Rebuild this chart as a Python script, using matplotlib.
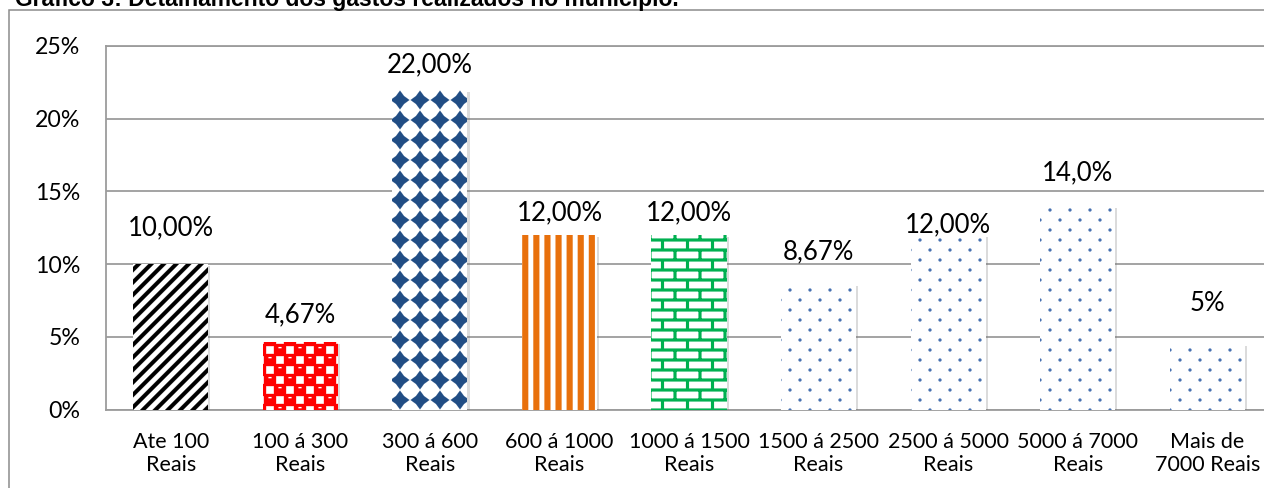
import numpy as np
import matplotlib
matplotlib.use("Agg")
import matplotlib.pyplot as plt
from matplotlib import hatch as mhatch
from matplotlib import patheffects as pe
from matplotlib.patches import Rectangle
from matplotlib.path import Path

# Data
title = "Gráfico 3: Detalhamento dos gastos realizados no município."
categories = [
    "Ate 100\nReais", "100 á 300\nReais", "300 á 600\nReais", "600 á 1000\nReais",
    "1000 á 1500\nReais", "1500 á 2500\nReais", "2500 á 5000\nReais",
    "5000 á 7000\nReais", "Mais de\n7000 Reais",
]
values = [10.0, 4.67, 22.0, 12.0, 12.0, 8.67, 12.0, 14.0, 4.5]
value_labels = ["10,00%", "4,67%", "22,00%", "12,00%", "12,00%", "8,67%", "12,00%", "14,0%", "5%"]
y_ticks = [0, 5, 10, 15, 20, 25]

# Styles (Excel pattern fills imitated with custom hatches)
hatches = ["/", "o", "O", "|", "-", ".", ".", ".", "."]
face_colors = ["white", "#ff0000", "white", "white", "white", "white", "white", "white", "white"]
hatch_colors = ["black", "white", "#214d84", "#e8700c", "#00b050",
                "#4670b0", "#4670b0", "#4670b0", "#4670b0"]
label_offsets = [26, 19, 18, 16, 16, 23, 7, 24, 29]  # points above bar top
GRID = "#9c9c9c"


def _rect(x0, y0, x1, y1):
    return [(x0, y0), (x1, y0), (x1, y1), (x0, y1), (x0, y0)]


def _stagger(n):
    for j in range(-1, 2 * n + 2):
        for i in range(-1, n + 2):
            yield i / n + (j % 2) * 0.5 / n, j / (2 * n)


class PolyHatch(mhatch.HatchPatternBase):
    char = "?"

    def __init__(self, hatch, density):
        self.polys = [np.asarray(p, float) for p in self.shapes()] if self.char in hatch else []
        self.num_vertices = sum(len(p) for p in self.polys)

    def set_vertices_and_codes(self, vertices, codes):
        i = 0
        for p in self.polys:
            n = len(p)
            vertices[i:i + n] = p
            codes[i] = Path.MOVETO
            codes[i + 1:i + n - 1] = Path.LINETO
            codes[i + n - 1] = Path.CLOSEPOLY
            i += n


class DiagonalStripes(PolyHatch):
    char = "/"

    def shapes(self):
        w = 0.055
        return [[(c - 0.1, -0.1), (c - 0.1 + w, -0.1), (c + 1.1 + w, 1.1), (c + 1.1, 1.1), (c - 0.1, -0.1)]
                for c in np.arange(-10, 10) / 8]


class VerticalStripes(PolyHatch):
    char = "|"

    def shapes(self):
        w = 0.06
        return [_rect(k / 9, -0.1, k / 9 + w, 1.1) for k in range(9)]


class Bricks(PolyHatch):
    char = "-"

    def shapes(self):
        t, rows, cols = 0.03, 10, 4
        out = [_rect(-0.1, j / rows - t / 2, 1.1, j / rows + t / 2) for j in range(rows + 1)]
        for j in range(rows):
            shift = 0.5 / cols if j % 2 else 0
            for i in range(-1, cols + 1):
                x = i / cols + shift
                out.append(_rect(x - t / 2, j / rows, x + t / 2, (j + 1) / rows))
        return out


class Checker(PolyHatch):
    char = "o"

    def shapes(self):
        s = 0.038
        out = [_rect(x - s, y - s, x + s, y + s) for x, y in _stagger(5)]
        # small highlight on each red "sphere"
        out += [_rect(x + 0.085, y + 0.018, x + 0.115, y + 0.03) for x, y in _stagger(5)]
        return out


class Diamonds(PolyHatch):
    char = "O"

    def shapes(self):
        r = 0.094
        ang = np.arange(8) * np.pi / 4 - np.pi / 2
        rad = np.where(np.arange(8) % 2 == 0, r, r * 0.6)
        out = []
        for j in range(-1, 7):
            for i in range(-1, 7):
                px = i / 5 + rad * np.cos(ang)
                py = j / 5 + rad * np.sin(ang)
                out.append(np.vstack([np.column_stack([px, py]), [px[0], py[0]]]))
        return out


class Dots(PolyHatch):
    char = "."

    def shapes(self):
        t = np.linspace(0, 2 * np.pi, 13)
        r = 0.016
        return [np.column_stack([x + r * np.cos(t), y + r * np.sin(t)]) for x, y in _stagger(5)]


mhatch._hatch_types[:] = [DiagonalStripes, VerticalStripes, Bricks, Checker, Diamonds, Dots]

plt.rcParams["font.family"] = ["Lato", "DejaVu Sans"]
plt.rcParams["hatch.linewidth"] = 0.1

W, H = 1264, 488
fig = plt.figure(figsize=(W / 100, H / 100), dpi=100)
ax = fig.add_axes([106 / W, (H - 409.5) / H, (1272 - 106) / W, (409.5 - 46) / H])

x = np.arange(len(categories))
bars = ax.bar(x, values, width=0.58, linewidth=0, zorder=3)
for rect, h, fc, hc in zip(bars, hatches, face_colors, hatch_colors):
    rect.set_facecolor(fc)
    rect.set_edgecolor(hc)
    rect.set_hatch(h)
    rect.set_path_effects([
        pe.SimplePatchShadow(offset=(1.5, -1.5), shadow_rgbFace="0.45", alpha=0.25, hatch=None),
        pe.Normal(),
    ])

for xi, v, lbl, off in zip(x, values, value_labels, label_offsets):
    ax.annotate(lbl, (xi, v), xytext=(0, off), textcoords="offset points",
                ha="center", va="center", fontsize=18.5, color="black")

ax.set_xlim(-0.5, len(categories) - 0.5)
ax.set_ylim(0, 25)
ax.set_yticks(y_ticks, [f"{t}%" for t in y_ticks])
ax.set_xticks(x, categories)
ax.tick_params(axis="y", length=0, pad=18.5, labelsize=16.7)
ax.tick_params(axis="x", length=0, pad=16, labelsize=15.5)
ax.yaxis.grid(True, color=GRID, linewidth=1.3)
ax.set_axisbelow(True)
for s in ax.spines.values():
    s.set_color(GRID)
    s.set_linewidth(1.3)

# outer chart border (cut off at right/bottom like the screenshot)
fig.add_artist(Rectangle((8.5 / W, -0.1), 2, (1 - 9.5 / H) + 0.1, transform=fig.transFigure,
                         fill=False, edgecolor="#8c8c8c", linewidth=1.1))
# title: only its lower part shows above the chart border, as in the screenshot
fig.text(15 / W, 1 - 6 / H, title, ha="left", va="baseline", fontsize=16.5,
         fontfamily="Liberation Sans", fontweight="bold")

fig.savefig("out.png", dpi=100)
